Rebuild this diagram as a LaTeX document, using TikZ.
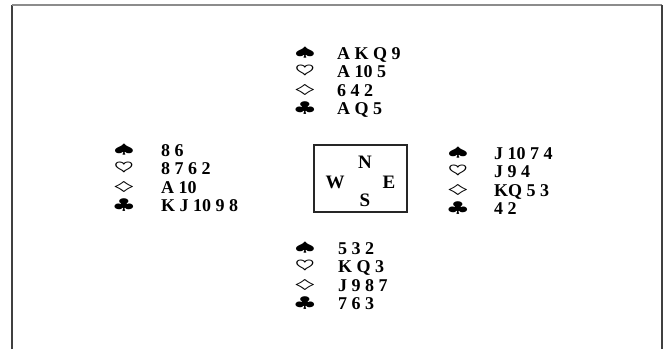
\documentclass[tikz,border=0pt]{standalone}
\usepackage{graphicx}
\usepackage{fontspec}
\setmainfont{Liberation Serif}
\newcommand\suitrow[6]{%
  \node[suit] (#1s) at (#2,#4-6) {#5};
  \node[cards] (#1t) at (#3,#4) {#6};}
\newcommand\Sp{\scalebox{1.35}[0.76]{$\spadesuit$}}
\newcommand\He{\scalebox{1.3}[0.85]{$\heartsuit$}}
\newcommand\Di{\scalebox{1.4}[0.72]{$\diamondsuit$}}
\newcommand\Cl{\scalebox{1.3}[0.87]{$\clubsuit$}}
\begin{document}
\begin{tikzpicture}[x=1pt,y=-1pt,
  suit/.style={anchor=center, inner sep=0pt, font=\fontsize{18}{18}\selectfont\boldmath},
  cards/.style={anchor=base west, inner sep=0pt, font=\fontsize{18}{18}\selectfont\bfseries},
  dirl/.style={anchor=base, inner sep=0pt, font=\fontsize{19}{19}\selectfont\bfseries},
  frameside/.style={draw=black!75, line width=1.3pt},
  frametop/.style={draw=black!45, line width=1.3pt}]
\useasboundingbox (0,0) rectangle (668,349);
% frame
\draw[frameside] (12,349) -- (12,5);
\draw[frametop] (12,5) -- (662,5);
\draw[frameside] (662,5) -- (662,349);
% North
\suitrow{ns}{305}{337}{59}{\Sp}{A K Q 9}
\suitrow{nh}{305}{337}{77.5}{\He}{A 10 5}
\suitrow{nd}{305}{337}{96}{\Di}{6 4 2}
\suitrow{nc}{305}{337}{114.5}{\Cl}{A Q 5}
% West
\suitrow{ws}{124}{161}{156}{\Sp}{8 6}
\suitrow{wh}{124}{161}{174}{\He}{8 7 6 2}
\suitrow{wd}{124}{161}{193}{\Di}{A 10}
\suitrow{wc}{124}{161}{211}{\Cl}{K J 10 9 8}
% East
\suitrow{es}{458}{494}{159}{\Sp}{J 10 7 4}
\suitrow{eh}{458}{494}{177.5}{\He}{J 9 4}
\suitrow{ed}{458}{494}{196}{\Di}{KQ 5 3}
\suitrow{ec}{458}{494}{214.5}{\Cl}{4 2}
% South
\suitrow{ss}{305}{338}{254}{\Sp}{5 3 2}
\suitrow{sh}{305}{338}{272.5}{\He}{K Q 3}
\suitrow{sd}{305}{338}{291}{\Di}{J 9 8 7}
\suitrow{sc}{305}{338}{309.5}{\Cl}{7 6 3}
% compass
\node[draw=black!85, line width=1.3pt, minimum width=93pt, minimum height=67pt, inner sep=0pt] (compass) at (360.5,178.5) {};
\node[dirl] (cn) at (365,168) {N};
\node[dirl] (cw) at (335,188) {W};
\node[dirl] (ce) at (389,188) {E};
\node[dirl] (cs) at (365,206) {S};
\end{tikzpicture}
\end{document}
